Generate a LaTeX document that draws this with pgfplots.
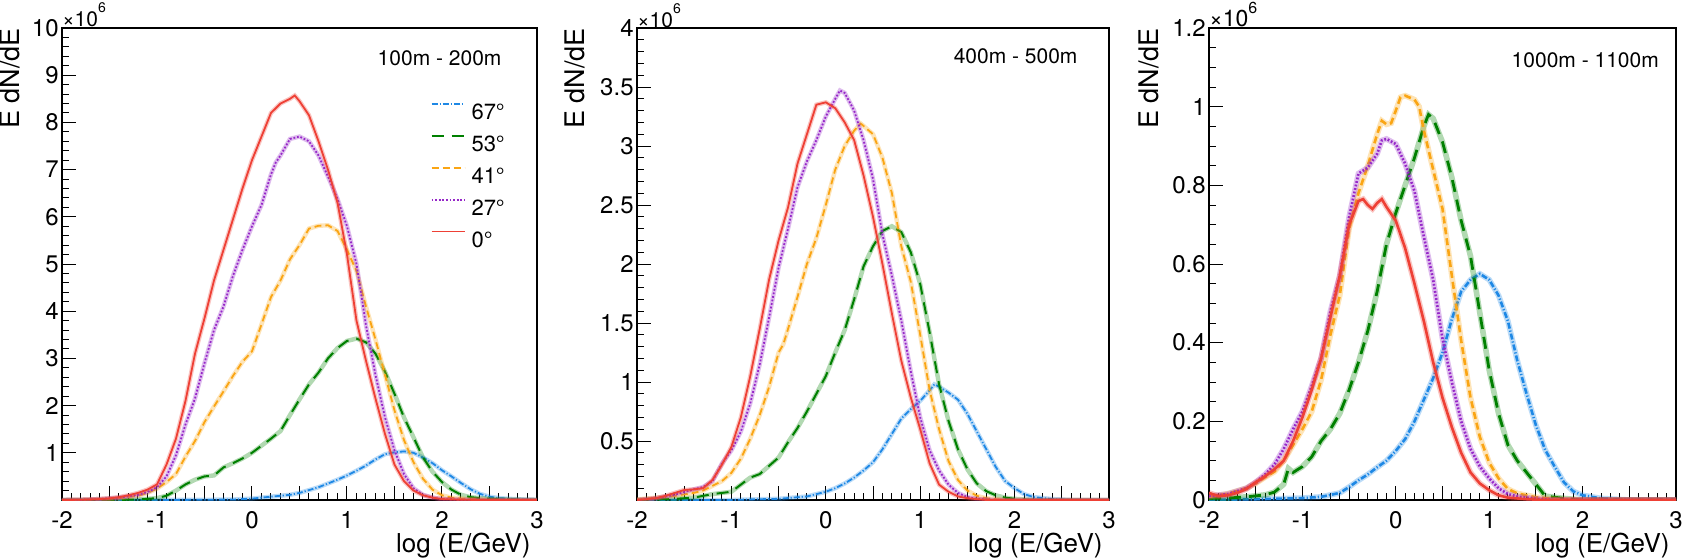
\documentclass[border=0pt]{standalone}
\usepackage{fontspec}
\setmainfont{TeX Gyre Heros}
\usepackage{pgfplots}
\usepackage{pgfplotstable}
\pgfplotsset{compat=1.18}

\definecolor{c67}{RGB}{30,136,229}
\definecolor{c53}{RGB}{0,128,0}
\definecolor{c41}{RGB}{250,165,20}
\definecolor{c27}{RGB}{150,40,200}
\definecolor{c0}{RGB}{238,64,53}

% ---- 100m - 200m (units of 1e6)
\pgfplotstableread[row sep=\\]{x y\\ -2 0\\ -1 0\\ -0.5 0.005\\ -0.2 0.01\\ 0 0.03\\ 0.2 0.07\\ 0.4 0.11\\ 0.5 0.15\\ 0.6 0.21\\ 0.7 0.27\\ 0.8 0.35\\ 0.9 0.43\\ 1.0 0.52\\ 1.1 0.62\\ 1.2 0.73\\ 1.3 0.86\\ 1.4 0.97\\ 1.5 1.01\\ 1.6 1.03\\ 1.7 1.0\\ 1.8 0.9\\ 1.9 0.78\\ 2.0 0.63\\ 2.1 0.5\\ 2.2 0.36\\ 2.3 0.23\\ 2.4 0.13\\ 2.5 0.07\\ 2.6 0.04\\ 2.8 0.015\\ 3.0 0.005\\}\pAb
\pgfplotstableread[row sep=\\]{x y\\ -2 0\\ -1.5 0\\ -1.2 0.01\\ -1.0 0.04\\ -0.9 0.09\\ -0.8 0.2\\ -0.7 0.33\\ -0.6 0.43\\ -0.5 0.5\\ -0.4 0.52\\ -0.3 0.69\\ -0.2 0.78\\ -0.1 0.88\\ 0 1.0\\ 0.1 1.15\\ 0.2 1.3\\ 0.3 1.46\\ 0.4 1.8\\ 0.5 2.13\\ 0.6 2.45\\ 0.7 2.7\\ 0.8 3.0\\ 0.9 3.22\\ 1.0 3.37\\ 1.1 3.42\\ 1.2 3.34\\ 1.3 3.1\\ 1.4 2.72\\ 1.5 2.25\\ 1.6 1.75\\ 1.7 1.33\\ 1.8 0.9\\ 1.9 0.6\\ 2.0 0.38\\ 2.1 0.22\\ 2.2 0.11\\ 2.3 0.06\\ 2.4 0.04\\ 2.6 0.015\\ 3.0 0\\}\pAg
\pgfplotstableread[row sep=\\]{x y\\ -2 0\\ -1.8 0.005\\ -1.6 0.02\\ -1.4 0.04\\ -1.2 0.09\\ -1.1 0.15\\ -1.0 0.24\\ -0.9 0.38\\ -0.8 0.55\\ -0.7 0.92\\ -0.6 1.25\\ -0.5 1.65\\ -0.4 1.98\\ -0.3 2.3\\ -0.2 2.63\\ -0.1 2.93\\ 0 3.15\\ 0.1 3.72\\ 0.2 4.3\\ 0.3 4.65\\ 0.4 5.1\\ 0.5 5.4\\ 0.6 5.75\\ 0.7 5.81\\ 0.8 5.82\\ 0.9 5.7\\ 1.0 5.3\\ 1.1 4.85\\ 1.2 4.1\\ 1.3 3.4\\ 1.4 2.65\\ 1.5 1.9\\ 1.6 1.27\\ 1.7 0.8\\ 1.8 0.45\\ 1.9 0.22\\ 2.0 0.1\\ 2.1 0.05\\ 2.3 0.015\\ 2.6 0\\ 3.0 0\\}\pAo
\pgfplotstableread[row sep=\\]{x y\\ -2 0\\ -1.8 0.005\\ -1.6 0.02\\ -1.4 0.05\\ -1.3 0.08\\ -1.2 0.11\\ -1.1 0.17\\ -1.0 0.27\\ -0.9 0.5\\ -0.8 0.95\\ -0.7 1.6\\ -0.6 2.15\\ -0.5 2.9\\ -0.4 3.6\\ -0.3 4.1\\ -0.2 4.75\\ -0.1 5.3\\ 0 5.8\\ 0.1 6.25\\ 0.2 6.9\\ 0.25 7.15\\ 0.3 7.3\\ 0.4 7.65\\ 0.5 7.7\\ 0.6 7.6\\ 0.7 7.3\\ 0.8 6.85\\ 0.9 6.38\\ 1.0 5.8\\ 1.1 5.0\\ 1.2 3.7\\ 1.3 2.65\\ 1.4 1.75\\ 1.5 1.05\\ 1.6 0.55\\ 1.7 0.25\\ 1.8 0.11\\ 1.9 0.05\\ 2.0 0.02\\ 2.2 0.005\\ 2.5 0\\ 3.0 0\\}\pAp
\pgfplotstableread[row sep=\\]{x y\\ -2 0\\ -1.8 0.005\\ -1.6 0.02\\ -1.5 0.035\\ -1.4 0.06\\ -1.3 0.1\\ -1.2 0.15\\ -1.1 0.22\\ -1.0 0.33\\ -0.9 0.75\\ -0.8 1.3\\ -0.7 2.1\\ -0.6 3.1\\ -0.5 3.85\\ -0.4 4.65\\ -0.3 5.3\\ -0.2 5.95\\ -0.1 6.6\\ 0 7.2\\ 0.1 7.7\\ 0.2 8.2\\ 0.3 8.4\\ 0.4 8.5\\ 0.45 8.57\\ 0.5 8.45\\ 0.6 8.15\\ 0.7 7.6\\ 0.8 7.0\\ 0.9 6.3\\ 1.0 5.2\\ 1.1 3.8\\ 1.2 2.95\\ 1.3 2.15\\ 1.4 1.4\\ 1.5 0.75\\ 1.6 0.4\\ 1.7 0.2\\ 1.8 0.1\\ 1.9 0.05\\ 2.0 0.02\\ 2.2 0.005\\ 2.5 0\\ 3.0 0\\}\pAr

% ---- 400m - 500m
\pgfplotstableread[row sep=\\]{x y\\ -2 0\\ -1 0\\ -0.8 0.005\\ -0.5 0.01\\ -0.2 0.03\\ 0 0.07\\ 0.1 0.1\\ 0.2 0.14\\ 0.3 0.19\\ 0.4 0.25\\ 0.5 0.32\\ 0.6 0.43\\ 0.7 0.56\\ 0.8 0.69\\ 0.9 0.77\\ 1.0 0.84\\ 1.1 0.93\\ 1.15 0.98\\ 1.2 0.96\\ 1.3 0.91\\ 1.4 0.85\\ 1.5 0.73\\ 1.6 0.58\\ 1.7 0.43\\ 1.8 0.28\\ 1.9 0.16\\ 2.0 0.1\\ 2.1 0.05\\ 2.2 0.025\\ 2.4 0.008\\ 2.6 0\\ 3.0 0\\}\pBb
\pgfplotstableread[row sep=\\]{x y\\ -2 0\\ -1.6 0.01\\ -1.4 0.02\\ -1.2 0.05\\ -1.1 0.06\\ -1.0 0.07\\ -0.9 0.13\\ -0.8 0.19\\ -0.7 0.22\\ -0.6 0.29\\ -0.5 0.36\\ -0.4 0.49\\ -0.3 0.61\\ -0.2 0.75\\ -0.1 0.9\\ 0 1.05\\ 0.1 1.25\\ 0.2 1.44\\ 0.3 1.7\\ 0.4 1.98\\ 0.5 2.15\\ 0.6 2.28\\ 0.7 2.32\\ 0.8 2.27\\ 0.9 2.1\\ 1.0 1.83\\ 1.1 1.42\\ 1.2 0.98\\ 1.3 0.67\\ 1.4 0.43\\ 1.5 0.26\\ 1.6 0.14\\ 1.7 0.075\\ 1.8 0.04\\ 1.9 0.02\\ 2.0 0.01\\ 2.2 0\\ 3.0 0\\}\pBg
\pgfplotstableread[row sep=\\]{x y\\ -2 0.005\\ -1.8 0.02\\ -1.6 0.035\\ -1.4 0.06\\ -1.3 0.08\\ -1.2 0.12\\ -1.1 0.16\\ -1.0 0.23\\ -0.9 0.35\\ -0.8 0.52\\ -0.7 0.72\\ -0.6 0.96\\ -0.5 1.25\\ -0.45 1.32\\ -0.4 1.45\\ -0.3 1.72\\ -0.2 2.0\\ -0.1 2.22\\ 0 2.5\\ 0.1 2.8\\ 0.2 3.0\\ 0.3 3.13\\ 0.37 3.19\\ 0.4 3.17\\ 0.5 3.1\\ 0.6 2.9\\ 0.7 2.6\\ 0.8 2.15\\ 0.9 1.85\\ 1.0 1.4\\ 1.1 0.93\\ 1.2 0.6\\ 1.3 0.33\\ 1.4 0.17\\ 1.5 0.08\\ 1.6 0.035\\ 1.7 0.015\\ 1.9 0\\ 3.0 0\\}\pBo
\pgfplotstableread[row sep=\\]{x y\\ -2 0\\ -1.8 0.015\\ -1.6 0.045\\ -1.4 0.09\\ -1.3 0.11\\ -1.2 0.16\\ -1.1 0.31\\ -1.0 0.42\\ -0.9 0.58\\ -0.8 0.82\\ -0.7 1.15\\ -0.6 1.55\\ -0.5 1.97\\ -0.4 2.3\\ -0.3 2.65\\ -0.2 2.87\\ -0.1 3.05\\ 0 3.25\\ 0.1 3.4\\ 0.15 3.47\\ 0.2 3.45\\ 0.3 3.3\\ 0.4 3.05\\ 0.5 2.72\\ 0.6 2.25\\ 0.7 1.9\\ 0.8 1.52\\ 0.9 1.09\\ 1.0 0.7\\ 1.1 0.42\\ 1.2 0.25\\ 1.3 0.13\\ 1.4 0.06\\ 1.5 0.025\\ 1.6 0.01\\ 1.8 0\\ 3.0 0\\}\pBp
\pgfplotstableread[row sep=\\]{x y\\ -2 0\\ -1.8 0.015\\ -1.7 0.035\\ -1.6 0.06\\ -1.5 0.085\\ -1.4 0.09\\ -1.3 0.1\\ -1.2 0.17\\ -1.1 0.3\\ -1.0 0.45\\ -0.9 0.7\\ -0.8 1.05\\ -0.7 1.45\\ -0.6 1.87\\ -0.5 2.2\\ -0.4 2.48\\ -0.3 2.85\\ -0.2 3.1\\ -0.1 3.35\\ 0 3.37\\ 0.1 3.32\\ 0.2 3.2\\ 0.3 3.05\\ 0.4 2.75\\ 0.5 2.4\\ 0.6 2.0\\ 0.7 1.58\\ 0.8 1.18\\ 0.9 0.87\\ 1.0 0.6\\ 1.1 0.31\\ 1.2 0.13\\ 1.3 0.07\\ 1.4 0.03\\ 1.5 0.015\\ 1.7 0\\ 3.0 0\\}\pBr

% ---- 1000m - 1100m
\pgfplotstableread[row sep=\\]{x y\\ -2 0\\ -1.5 0.002\\ -1.0 0.005\\ -0.8 0.008\\ -0.6 0.018\\ -0.5 0.033\\ -0.4 0.05\\ -0.3 0.065\\ -0.2 0.083\\ -0.1 0.1\\ 0 0.125\\ 0.1 0.155\\ 0.2 0.2\\ 0.3 0.255\\ 0.4 0.31\\ 0.5 0.375\\ 0.6 0.46\\ 0.7 0.53\\ 0.8 0.56\\ 0.9 0.575\\ 1.0 0.56\\ 1.1 0.52\\ 1.2 0.455\\ 1.3 0.355\\ 1.4 0.27\\ 1.5 0.19\\ 1.6 0.127\\ 1.7 0.085\\ 1.8 0.045\\ 1.9 0.022\\ 2.0 0.012\\ 2.2 0.004\\ 2.5 0\\ 3.0 0\\}\pCb
\pgfplotstableread[row sep=\\]{x y\\ -2 0.004\\ -1.8 0.005\\ -1.6 0.008\\ -1.4 0.013\\ -1.3 0.02\\ -1.2 0.04\\ -1.15 0.08\\ -1.1 0.07\\ -1.0 0.085\\ -0.9 0.11\\ -0.8 0.15\\ -0.7 0.18\\ -0.6 0.22\\ -0.5 0.28\\ -0.4 0.35\\ -0.3 0.43\\ -0.2 0.53\\ -0.1 0.65\\ 0 0.73\\ 0.1 0.8\\ 0.2 0.87\\ 0.3 0.95\\ 0.35 0.98\\ 0.4 0.97\\ 0.5 0.91\\ 0.6 0.82\\ 0.7 0.71\\ 0.8 0.62\\ 0.9 0.475\\ 1.0 0.33\\ 1.1 0.22\\ 1.2 0.14\\ 1.3 0.1\\ 1.4 0.07\\ 1.5 0.04\\ 1.6 0.01\\ 1.8 0.004\\ 2.0 0\\ 3.0 0\\}\pCg
\pgfplotstableread[row sep=\\]{x y\\ -2 0.008\\ -1.8 0.016\\ -1.6 0.03\\ -1.5 0.042\\ -1.4 0.058\\ -1.3 0.072\\ -1.2 0.1\\ -1.1 0.14\\ -1.0 0.18\\ -0.9 0.225\\ -0.8 0.305\\ -0.7 0.42\\ -0.6 0.52\\ -0.5 0.69\\ -0.4 0.78\\ -0.3 0.85\\ -0.2 0.93\\ -0.15 0.964\\ -0.1 0.955\\ -0.05 0.958\\ 0 0.99\\ 0.05 1.024\\ 0.1 1.028\\ 0.2 1.018\\ 0.25 1.0\\ 0.3 0.94\\ 0.4 0.84\\ 0.5 0.74\\ 0.6 0.57\\ 0.7 0.405\\ 0.8 0.26\\ 0.9 0.16\\ 1.0 0.095\\ 1.1 0.055\\ 1.2 0.028\\ 1.3 0.017\\ 1.5 0.007\\ 1.7 0.002\\ 2.0 0\\ 3.0 0\\}\pCo
\pgfplotstableread[row sep=\\]{x y\\ -2 0.01\\ -1.8 0.015\\ -1.6 0.03\\ -1.5 0.045\\ -1.4 0.065\\ -1.3 0.09\\ -1.2 0.13\\ -1.1 0.18\\ -1.0 0.225\\ -0.9 0.29\\ -0.8 0.36\\ -0.7 0.48\\ -0.6 0.57\\ -0.5 0.72\\ -0.4 0.83\\ -0.3 0.845\\ -0.2 0.88\\ -0.15 0.914\\ -0.1 0.918\\ 0 0.905\\ 0.1 0.855\\ 0.2 0.785\\ 0.3 0.67\\ 0.4 0.56\\ 0.5 0.41\\ 0.6 0.3\\ 0.7 0.2\\ 0.8 0.13\\ 0.9 0.085\\ 1.0 0.055\\ 1.1 0.03\\ 1.2 0.015\\ 1.3 0.009\\ 1.5 0.003\\ 1.7 0\\ 3.0 0\\}\pCp
\pgfplotstableread[row sep=\\]{x y\\ -2 0.018\\ -1.9 0.01\\ -1.8 0.012\\ -1.7 0.018\\ -1.6 0.028\\ -1.5 0.045\\ -1.4 0.06\\ -1.3 0.078\\ -1.2 0.1\\ -1.1 0.15\\ -1.0 0.21\\ -0.9 0.28\\ -0.8 0.36\\ -0.7 0.465\\ -0.6 0.57\\ -0.5 0.7\\ -0.4 0.76\\ -0.35 0.765\\ -0.3 0.75\\ -0.25 0.74\\ -0.2 0.755\\ -0.15 0.765\\ -0.1 0.745\\ 0 0.71\\ 0.1 0.64\\ 0.2 0.55\\ 0.3 0.455\\ 0.4 0.35\\ 0.5 0.26\\ 0.6 0.185\\ 0.7 0.12\\ 0.8 0.07\\ 0.9 0.042\\ 1.0 0.025\\ 1.1 0.012\\ 1.2 0.006\\ 1.4 0.002\\ 1.6 0\\ 3.0 0\\}\pCr

\pgfplotsset{
  rootaxis/.style={
    scale only axis, height=236pt,
    xmin=-2, xmax=3, ymin=0,
    tick align=inside, xtick pos=bottom, ytick pos=left,
    xtick={-2,...,3}, xticklabels={-2,-1,0,1,2,3},
    minor x tick num=9,
    extra x ticks={-1.5,-0.5,0.5,1.5,2.5}, extra x tick labels={},
    major tick length=7pt, minor tick length=3.5pt,
    every tick/.style={black, line width=0.5pt},
    axis line style={line width=0.6pt},
    ticklabel style={font=\fontsize{12}{12}\selectfont, inner sep=0pt},
    xticklabel style={yshift=-5.5pt},
    yticklabel style={xshift=-1.5pt},
    xlabel={log (E/GeV)},
    xlabel style={at={(rel axis cs:1,0)}, anchor=base east, inner sep=0pt,
      yshift=-26pt, xshift=-3pt, font=\fontsize{13}{13}\selectfont},
    ylabel={E dN/dE},
    title={×10\raisebox{7pt}{\fontsize{7}{7}\selectfont 6}},
    title style={at={(rel axis cs:0,1)}, anchor=base west, inner sep=0pt,
      yshift=-5.5pt, font=\fontsize{10.5}{10.5}\selectfont},
  },
  ylab/.style={ylabel style={at={([xshift=#1]rel axis cs:0,1)}, anchor=south east,
      inner sep=0pt, font=\fontsize{13.5}{13.5}\selectfont}},
  band/.style={forget plot, line width=2.2pt, draw=#1, draw opacity=0.3},
  s67/.style={c67, line width=0.9pt, dash pattern=on 3pt off 1pt on 0.6pt off 1pt},
  s53/.style={c53, line width=1pt, dash pattern=on 6pt off 4pt},
  s41/.style={c41, line width=0.9pt, dash pattern=on 3.5pt off 2pt},
  s27/.style={c27, line width=0.9pt, dash pattern=on 0.9pt off 0.9pt},
  s0/.style={c0, line width=0.9pt},
}

\begin{document}
\begin{tikzpicture}
\useasboundingbox (0,0) rectangle (842.5pt,279pt);

% panel 1
\begin{axis}[rootaxis, ylab=-21pt, at={(31pt,29pt)}, anchor=south west, width=237.5pt,
  ymax=10, ytick={0,1,2,3,4,5,6,7,8,9,10},
  yticklabels={,1,2,3,4,5,6,7,8,9,10}, minor y tick num=4,
  legend style={at={(rel axis cs:0.775,0.842)}, anchor=north west, draw=none, fill=none,
    inner sep=0pt, font=\fontsize{11}{11}\selectfont, row sep=7.5pt, column sep=3pt,
    nodes={inner sep=0pt, text height=8pt, text depth=0pt}},
  legend cell align=left,
  legend image code/.code={\draw[#1] (0pt,4pt) -- (16.5pt,4pt);}]
\addplot[band=c67] table {\pAb};
\addplot[s67] table {\pAb};
\addlegendentry{67°}
\addplot[band=c53] table {\pAg};
\addplot[s53] table {\pAg};
\addlegendentry{53°}
\addplot[band=c41] table {\pAo};
\addplot[s41] table {\pAo};
\addlegendentry{41°}
\addplot[band=c27] table {\pAp};
\addplot[s27] table {\pAp};
\addlegendentry{27°}
\addplot[band=c0] table {\pAr};
\addplot[s0] table {\pAr};
\addlegendentry{0°}
\node[anchor=east, inner sep=0pt, font=\fontsize{10.5}{10.5}\selectfont] at (rel axis cs:0.926,0.936) {100m - 200m};
\end{axis}

% panel 2
\begin{axis}[rootaxis, ylab=-26pt, at={(318.5pt,29pt)}, anchor=south west, width=236pt,
  ymax=4, ytick={0,0.5,1,1.5,2,2.5,3,3.5,4},
  yticklabels={,0.5,1,1.5,2,2.5,3,3.5,4}, minor y tick num=4]
\addplot[band=c67] table {\pBb};
\addplot[s67] table {\pBb};
\addplot[band=c53] table {\pBg};
\addplot[s53] table {\pBg};
\addplot[band=c41] table {\pBo};
\addplot[s41] table {\pBo};
\addplot[band=c27] table {\pBp};
\addplot[s27] table {\pBp};
\addplot[band=c0] table {\pBr};
\addplot[s0] table {\pBr};
\node[anchor=east, inner sep=0pt, font=\fontsize{10.5}{10.5}\selectfont] at (rel axis cs:0.934,0.941) {400m - 500m};
\end{axis}

% panel 3
\begin{axis}[rootaxis, ylab=-25pt, at={(604.5pt,29pt)}, anchor=south west, width=233.5pt,
  ymax=1.2, ytick={0,0.2,0.4,0.6,0.8,1,1.2},
  yticklabels={0,0.2,0.4,0.6,0.8,1,1.2}, minor y tick num=3,
  title={×10\raisebox{7pt}{\fontsize{8}{8}\selectfont 6}},
  title style={font=\fontsize{11.5}{11.5}\selectfont}]
\addplot[band=c67, line width=2.8pt] table {\pCb};
\addplot[s67, line width=1.3pt] table {\pCb};
\addplot[band=c53, line width=2.8pt] table {\pCg};
\addplot[s53, line width=1.4pt] table {\pCg};
\addplot[band=c41, line width=2.8pt] table {\pCo};
\addplot[s41, line width=1.3pt] table {\pCo};
\addplot[band=c27, line width=2.8pt] table {\pCp};
\addplot[s27, line width=1.3pt] table {\pCp};
\addplot[band=c0, line width=2.8pt] table {\pCr};
\addplot[s0, line width=1.3pt] table {\pCr};
\node[anchor=east, inner sep=0pt, font=\fontsize{10.5}{10.5}\selectfont] at (rel axis cs:0.964,0.932) {1000m - 1100m};
\end{axis}
\end{tikzpicture}
\end{document}
